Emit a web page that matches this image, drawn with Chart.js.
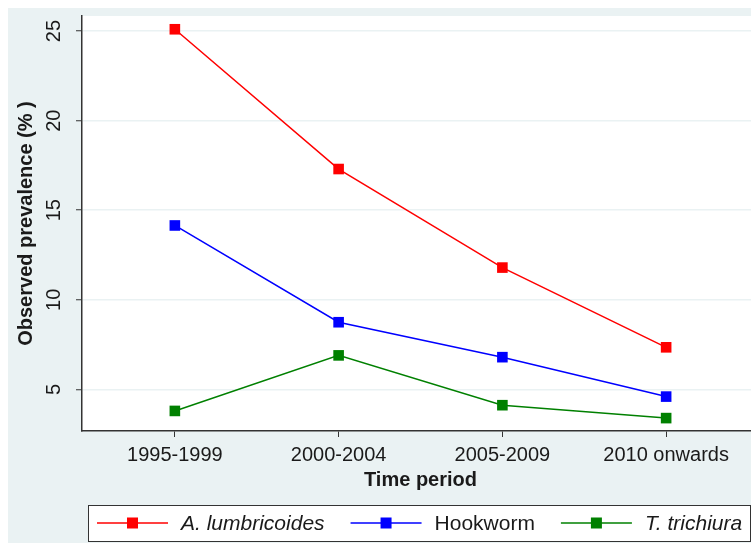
<!DOCTYPE html>
<html>
<head>
<meta charset="utf-8">
<script src="https://cdn.jsdelivr.net/npm/chart.js@4.4.1/dist/chart.umd.min.js"></script>
<style>
  html, body { margin: 0; padding: 0; background: #ffffff; }
  #wrap { width: 751px; height: 545px; overflow: hidden; position: relative; }
  canvas { display: block; }
</style>
</head>
<body>
<div id="wrap"><canvas id="prevChart" width="770" height="545"></canvas></div>
<script>
// Observed prevalence (%) by time period
const periods = ['1995-1999', '2000-2004', '2005-2009', '2010 onwards'];
const ascaris = [25.1, 17.3, 11.8, 7.35];
const hookworm = [14.15, 8.75, 6.8, 4.6];
const trichuris = [3.8, 6.9, 4.12, 3.4];
const yTicks = [5, 10, 15, 20, 25];

const FONT = '"Liberation Sans", Arial, sans-serif';
const BG = '#eaf2f3';
const INK = '#1a1a1a';

const series = [
  { label: 'A. lumbricoides', data: ascaris, color: '#ff0000', italic: true },
  { label: 'Hookworm', data: hookworm, color: '#0000ff', italic: false },
  { label: 'T. trichiura', data: trichuris, color: '#008000', italic: true }
];

// outer graph region + white plot region
const backdrop = {
  id: 'backdrop',
  beforeDraw(chart) {
    const { ctx, chartArea: a } = chart;
    ctx.save();
    ctx.fillStyle = BG;
    ctx.fillRect(8, 8, chart.width - 8, 535);
    ctx.fillStyle = '#ffffff';
    ctx.fillRect(a.left, a.top, a.right - a.left, a.bottom - a.top);
    ctx.restore();
  }
};

// Stata-like legend: line with marker in the middle, boxed
const stataLegend = {
  id: 'stataLegend',
  afterDraw(chart) {
    const { ctx } = chart;
    const top = 505, h = 36, cy = top + h / 2;
    ctx.save();
    ctx.fillStyle = '#ffffff';
    ctx.fillRect(88, top, 662, h);
    ctx.strokeStyle = '#333333';
    ctx.lineWidth = 1;
    ctx.strokeRect(88.5, top + 0.5, 662, h);
    let x = 97;
    chart.data.datasets.forEach((ds, i) => {
      const s = series[i];
      ctx.strokeStyle = ds.borderColor;
      ctx.lineWidth = 1.5;
      ctx.beginPath();
      ctx.moveTo(x, cy);
      ctx.lineTo(x + 71, cy);
      ctx.stroke();
      ctx.fillStyle = ds.borderColor;
      ctx.fillRect(x + 30, cy - 5.5, 11, 11);
      ctx.font = (s.italic ? 'italic ' : '') + '21px ' + FONT;
      ctx.fillStyle = INK;
      ctx.textBaseline = 'middle';
      ctx.textAlign = 'left';
      const tx = x + 84;
      ctx.fillText(ds.label, tx, cy + 1);
      x = tx + ctx.measureText(ds.label).width + 26;
    });
    ctx.restore();
  }
};

const ctx = document.getElementById('prevChart').getContext('2d');
new Chart(ctx, {
  type: 'line',
  data: {
    datasets: series.map(s => ({
      label: s.label,
      data: s.data.map((v, i) => ({ x: i + 1, y: v })),
      borderColor: s.color,
      backgroundColor: s.color,
      borderWidth: 1.5,
      pointStyle: 'rect',
      pointRadius: 7.5,
      pointBorderWidth: 0,
      pointHoverRadius: 7.5,
      fill: false,
      tension: 0
    }))
  },
  options: {
    responsive: false,
    animation: false,
    events: [],
    layout: { padding: { left: 8, top: 16, right: 11, bottom: 51 } },
    plugins: {
      legend: { display: false },
      tooltip: { enabled: false }
    },
    scales: {
      x: {
        type: 'linear',
        min: 0.433,
        max: 4.567,
        afterBuildTicks: scale => { scale.ticks = periods.map((_, i) => ({ value: i + 1 })); },
        afterFit: scale => { scale.height = 63; scale.paddingLeft = 0; scale.paddingRight = 0; },
        ticks: {
          callback: v => periods[v - 1],
          font: { family: FONT, size: 20 },
          color: INK,
          padding: 6,
          maxRotation: 0,
          autoSkip: false
        },
        grid: { drawOnChartArea: false, tickLength: 6, tickColor: '#333333', tickWidth: 1 },
        border: { color: '#333333', width: 1.5 },
        title: {
          display: true,
          text: 'Time period',
          font: { family: FONT, size: 20, weight: 'bold' },
          color: INK,
          padding: { top: 0, bottom: 2 }
        }
      },
      y: {
        min: 2.68,
        max: 25.84,
        afterBuildTicks: scale => { scale.ticks = yTicks.map(v => ({ value: v })); },
        afterFit: scale => { scale.width = 74; scale.paddingTop = 0; scale.paddingBottom = 0; },
        ticks: {
          font: { family: FONT, size: 20 },
          color: INK,
          padding: 10,
          minRotation: 90,
          maxRotation: 90,
          crossAlign: 'center'
        },
        grid: { color: BG, lineWidth: 1.5, tickLength: 6, tickColor: '#333333', tickWidth: 1 },
        border: { color: '#333333', width: 1.5 },
        title: {
          display: true,
          text: 'Observed prevalence (% )',
          font: { family: FONT, size: 20, weight: 'bold' },
          color: INK,
          padding: { top: 6, bottom: 0 }
        }
      }
    }
  },
  plugins: [backdrop, stataLegend]
});
</script>
</body>
</html>
